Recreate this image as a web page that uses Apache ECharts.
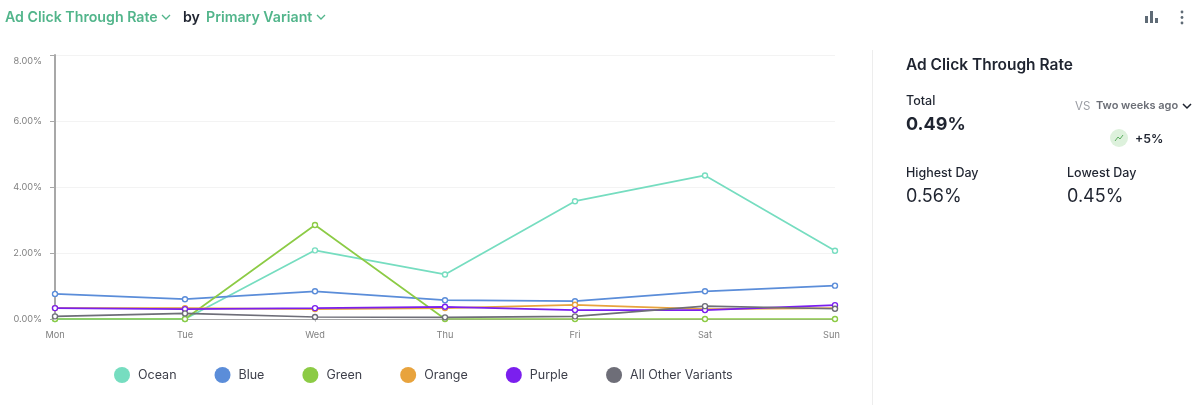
<!DOCTYPE html>
<html><head><meta charset="utf-8">
<style>html,body{margin:0;padding:0;background:#fff}#c{width:1200px;height:405px}</style>
<script src="https://cdn.jsdelivr.net/npm/echarts@6/dist/echarts.min.js"></script>
</head><body><div id="c"></div>
<script>
const categories = ['Mon','Tue','Wed','Thu','Fri','Sat','Sun'];
const ocean  = [0,0,2.08,1.35,3.57,4.35,2.07];
const blue   = [0.76,0.60,0.84,0.57,0.54,0.84,1.01];
const green  = [0,0,2.85,0,0,0,0];
const orange = [0.33,0.33,0.30,0.33,0.43,0.30,0.33];
const purple = [0.33,0.30,0.33,0.37,0.27,0.27,0.42];
const others = [0.08,0.17,0.06,0.05,0.08,0.39,0.31];
const names  = ['Ocean','Blue','Green','Orange','Purple','All Other Variants'];
const colors = ['#76DDC0','#5B8DD9','#8CCB45','#E8A33D','#7B1FEE','#6E6E78'];
const F = 'Inter, "Noto Sans", sans-serif';
const chart = echarts.init(document.getElementById('c'));
const txt = (x,y,text,size,weight,fill)=>({type:'text',left:x,top:y,silent:true,
  style:{text,x:0,y:0,font:`${weight} ${size}px ${F}`,fill,textVerticalAlign:'top'}});
const chev = (x,y,w,h,stroke,lw)=>({type:'polyline',silent:true,
  shape:{points:[[x,y],[x+w/2,y+h],[x+w,y]]},style:{stroke,fill:'none',lineWidth:lw}});
const G='#52B58B', D='#1F2430';
chart.setOption({
  animation:false,
  color:colors,
  grid:{left:55,right:365,top:55,bottom:86,containLabel:false},
  xAxis:{type:'category',data:categories,boundaryGap:false,
    axisLine:{lineStyle:{color:'#A8A8A8',width:1}},
    axisTick:{show:true,alignWithLabel:true,length:3,lineStyle:{color:'#C8C8C8'}},
    axisLabel:{color:'#808080',fontSize:9.2,fontFamily:F,margin:12,showMinLabel:true,showMaxLabel:true,alignMaxLabel:'center',alignMinLabel:'center',interval:0,
      formatter:(v,i)=> i===categories.length-1 ? `{s|${v}}` : v,
      rich:{s:{color:'#808080',fontSize:9.2,fontFamily:F,padding:[0,7,0,0]}}},
    splitLine:{show:false}},
  yAxis:{type:'value',min:0,max:8,interval:2,
    axisLine:{show:true,lineStyle:{color:'#A8A8A8',width:2}},
    axisTick:{show:true,length:5,lineStyle:{color:'#A8A8A8'}},
    axisLabel:{color:'#808080',fontSize:9.2,fontFamily:F,margin:13,padding:[2,0,0,0],verticalAlignMaxLabel:'top',
      formatter:v=>v.toFixed(2)+'%'},
    splitLine:{lineStyle:{color:'#F3F3F3',width:1}}},
  legend:{left:109,top:362,icon:'circle',itemWidth:16,itemHeight:16,itemGap:38,
    data:names.map((name,i)=>({name,itemStyle:{color:colors[i],borderWidth:0}})),
    textStyle:{color:'#3D3F4A',fontSize:12.5,fontFamily:F,padding:[0,0,0,3]}},
  series:[ocean,blue,green,orange,purple,others].map((d,i)=>({
    name:names[i],type:'line',data:d,symbol:'circle',symbolSize:5,showSymbol:true,clip:true,
    lineStyle:{width:1.7,color:colors[i]},
    itemStyle:{color:'#fff',borderColor:colors[i],borderWidth:1.4},
    emphasis:{disabled:true}
  })),
  graphic:[
    {type:'rect',silent:true,z:3,shape:{x:46,y:275,width:8,height:50},style:{fill:'#fff'}},
    {type:'rect',silent:true,z:3,shape:{x:836,y:240,width:10,height:85},style:{fill:'#fff'}},
    {type:'line',silent:true,z:4,shape:{x1:50,y1:319.5,x2:54,y2:319.5},style:{stroke:'#A8A8A8',lineWidth:1}},
    txt(5,11,'Ad Click Through Rate',14.2,600,G),
    chev(162,15,8,4,G,1.3),
    txt(183,11,'by',14.2,600,D),
    txt(206,11,'Primary Variant',14.2,600,G),
    chev(317,15,8,4,G,1.3),
    {type:'rect',silent:true,shape:{x:1145,y:16,width:3,height:7},style:{fill:'#5F6B76'}},
    {type:'rect',silent:true,shape:{x:1150,y:11,width:3,height:12},style:{fill:'#5F6B76'}},
    {type:'rect',silent:true,shape:{x:1155,y:18,width:3,height:5},style:{fill:'#5F6B76'}},
    {type:'circle',silent:true,shape:{cx:1182,cy:12,r:1.4},style:{fill:'#5F6B76'}},
    {type:'circle',silent:true,shape:{cx:1182,cy:17.5,r:1.4},style:{fill:'#5F6B76'}},
    {type:'circle',silent:true,shape:{cx:1182,cy:23,r:1.4},style:{fill:'#5F6B76'}},
    {type:'line',silent:true,shape:{x1:872.5,y1:50,x2:872.5,y2:405},style:{stroke:'#EDEDED',lineWidth:1}},
    txt(906,57,'Ad Click Through Rate',15.5,600,D),
    txt(906,95,'Total',12.5,500,D),
    txt(906,116,'0.49%',18,700,D),
    txt(1075,101,'VS',11.5,400,'#9A9CA3'),
    txt(1096,100,'Two weeks ago',11,600,'#6B6E76'),
    chev(1183,104,8,4,D,1.5),
    {type:'circle',silent:true,shape:{cx:1119,cy:138,r:9},style:{fill:'#DDF1DC'}},
    {type:'polyline',silent:true,shape:{points:[[1115,141],[1118,137],[1120,139],[1123,135]]},style:{stroke:'#5DAE62',fill:'none',lineWidth:1}},
    txt(1135,133,'+5%',12.3,600,D),
    txt(906,167,'Highest Day',12.5,500,D),
    txt(906,188,'0.56%',18,400,D),
    txt(1067,167,'Lowest Day',12.5,500,D),
    txt(1067,188,'0.45%',18,400,D)
  ]
});
</script></body></html>
